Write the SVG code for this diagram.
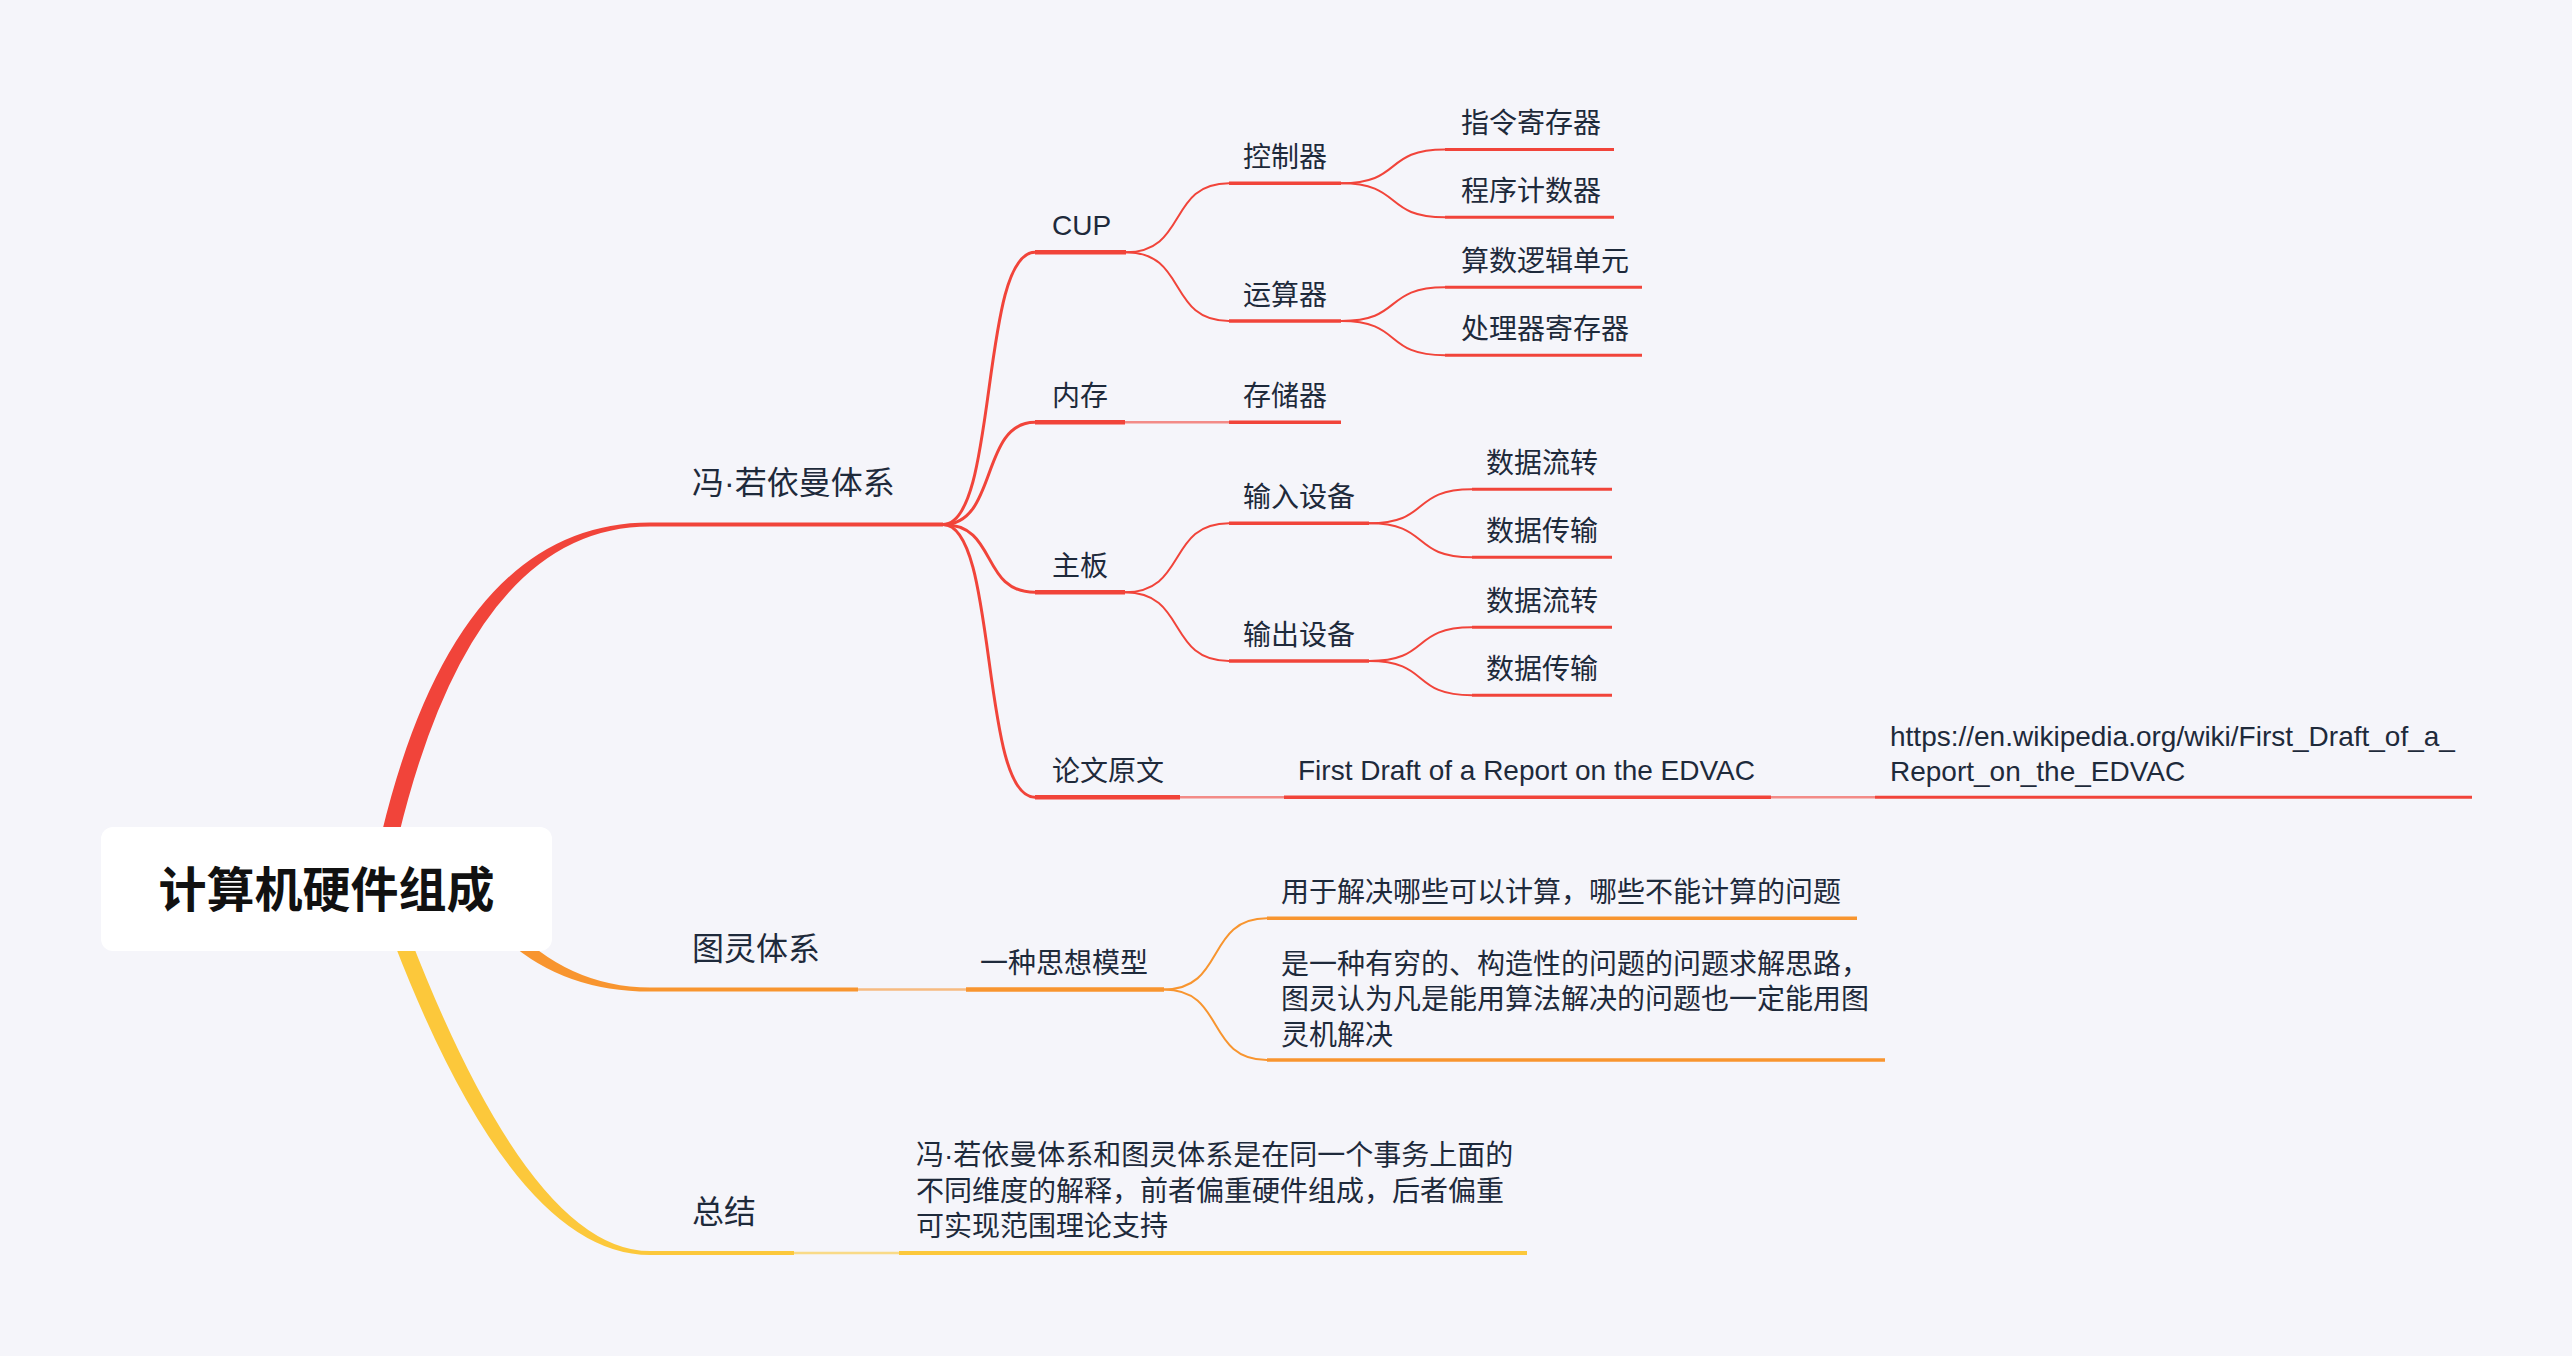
<svg xmlns="http://www.w3.org/2000/svg" width="2572" height="1356" viewBox="0 0 2572 1356">
<style>
text{font-family:"Liberation Sans","Noto Sans CJK SC",sans-serif;fill:#1E2A3B}
.t1{font-size:32px}
.t2{font-size:28px}
.title{font-size:48px;font-weight:700;fill:#111111}
.r{stroke:#F1443A;fill:none}
.o{stroke:#F8952F;fill:none}
.y{stroke:#FCC83B;fill:none}
.c1{stroke-width:3}
.c2{stroke-width:2}
.cs{stroke-width:2.5;stroke-opacity:.6}
.u1{stroke-width:4}
.u2{stroke-width:4.5}
.u3{stroke-width:3.5}
.u4{stroke-width:3}
</style>
<rect width="2572" height="1356" fill="#F5F5FA"/>
<g id="connectors">
<path d="M381.7,833 Q456.6,522.5 650,522.5 L650,526.5 Q473.2,526.5 398.3,837 Z" fill="#F1443A"/>
<path d="M474.3,904.1 Q537.8,991.5 650,991.5 L650,987.5 Q552.2,987.5 485.7,895.9 Z" fill="#F8952F"/>
<path d="M394.1,943.1 Q514.5,1255 650,1255 L650,1251 Q531.3,1251 409.9,936.9 Z" fill="#FCC83B"/>
<path class="r c1" d="M943 524.5 C998.2 524.5 979.8 252.3 1035 252.3"/>
<path class="r c1" d="M943 524.5 C998.2 524.5 979.8 422.3 1035 422.3"/>
<path class="r c1" d="M943 524.5 C998.2 524.5 979.8 592.3 1035 592.3"/>
<path class="r c1" d="M943 524.5 C998.2 524.5 979.8 797.3 1035 797.3"/>
<path class="r c2" d="M1126 252.3 C1187.8 252.3 1167.2 183.3 1229 183.3"/>
<path class="r c2" d="M1126 252.3 C1187.8 252.3 1167.2 321 1229 321"/>
<path class="r c2" d="M1341 183.3 C1403.4 183.3 1382.6 149.5 1445 149.5"/>
<path class="r c2" d="M1341 183.3 C1403.4 183.3 1382.6 217.3 1445 217.3"/>
<path class="r c2" d="M1341 321 C1403.4 321 1382.6 287.3 1445 287.3"/>
<path class="r c2" d="M1341 321 C1403.4 321 1382.6 355.3 1445 355.3"/>
<path class="r c2" d="M1125 592.3 C1187.4 592.3 1166.6 523.3 1229 523.3"/>
<path class="r c2" d="M1125 592.3 C1187.4 592.3 1166.6 661 1229 661"/>
<path class="r c2" d="M1369 523.3 C1430.8 523.3 1410.2 489.3 1472 489.3"/>
<path class="r c2" d="M1369 523.3 C1430.8 523.3 1410.2 557.3 1472 557.3"/>
<path class="r c2" d="M1369 661 C1430.8 661 1410.2 627.3 1472 627.3"/>
<path class="r c2" d="M1369 661 C1430.8 661 1410.2 695.3 1472 695.3"/>
<path class="r cs" d="M1125 422.3 H1229"/>
<path class="r cs" d="M1180 797.3 H1284"/>
<path class="r cs" d="M1771 797.3 H1875"/>
<path class="o cs" d="M858 989.5 H966"/>
<path class="o c2" d="M1164 989.5 C1225.8 989.5 1205.2 918.3 1267 918.3"/>
<path class="o c2" d="M1164 989.5 C1225.8 989.5 1205.2 1060 1267 1060"/>
<path class="y cs" d="M794 1253 H899"/>
</g>
<g id="root">
<rect x="101" y="827" width="451" height="124" rx="12" fill="#FFFFFF"/>
<text class="title" x="326.5" y="907" text-anchor="middle">计算机硬件组成</text>
</g>
<g id="von-neumann">
<path class="r u1" d="M650 524.5 H943"/>
<text class="t1" x="692" y="494">冯·若依曼体系</text>
</g>
<g id="cup">
<path class="r u2" d="M1035 252.3 H1126"/>
<text class="t2" x="1052" y="235">CUP</text>
</g>
<g id="controller">
<path class="r u3" d="M1229 183.3 H1341"/>
<text class="t2" x="1243" y="167">控制器</text>
</g>
<g id="instr-reg">
<path class="r u4" d="M1445 149.5 H1614"/>
<text class="t2" x="1461" y="133">指令寄存器</text>
</g>
<g id="pc">
<path class="r u4" d="M1445 217.3 H1614"/>
<text class="t2" x="1461" y="201">程序计数器</text>
</g>
<g id="alu-group">
<path class="r u3" d="M1229 321 H1341"/>
<text class="t2" x="1243" y="304.5">运算器</text>
</g>
<g id="alu">
<path class="r u4" d="M1445 287.3 H1642"/>
<text class="t2" x="1461" y="271">算数逻辑单元</text>
</g>
<g id="proc-reg">
<path class="r u4" d="M1445 355.3 H1642"/>
<text class="t2" x="1461" y="339">处理器寄存器</text>
</g>
<g id="memory">
<path class="r u2" d="M1035 422.3 H1125"/>
<text class="t2" x="1052" y="406">内存</text>
</g>
<g id="storage">
<path class="r u3" d="M1229 422.3 H1341"/>
<text class="t2" x="1243" y="406">存储器</text>
</g>
<g id="mainboard">
<path class="r u2" d="M1035 592.3 H1125"/>
<text class="t2" x="1052" y="576">主板</text>
</g>
<g id="input">
<path class="r u3" d="M1229 523.3 H1369"/>
<text class="t2" x="1243" y="507">输入设备</text>
</g>
<g id="input-flow">
<path class="r u4" d="M1472 489.3 H1612"/>
<text class="t2" x="1486" y="473">数据流转</text>
</g>
<g id="input-trans">
<path class="r u4" d="M1472 557.3 H1612"/>
<text class="t2" x="1486" y="541">数据传输</text>
</g>
<g id="output">
<path class="r u3" d="M1229 661 H1369"/>
<text class="t2" x="1243" y="644.5">输出设备</text>
</g>
<g id="output-flow">
<path class="r u4" d="M1472 627.3 H1612"/>
<text class="t2" x="1486" y="611">数据流转</text>
</g>
<g id="output-trans">
<path class="r u4" d="M1472 695.3 H1612"/>
<text class="t2" x="1486" y="679">数据传输</text>
</g>
<g id="paper">
<path class="r u2" d="M1035 797.3 H1180"/>
<text class="t2" x="1052" y="781">论文原文</text>
</g>
<g id="first-draft">
<path class="r u3" d="M1284 797.3 H1771"/>
<text class="t2" x="1298" y="780">First Draft of a Report on the EDVAC</text>
</g>
<g id="url">
<path class="r u4" d="M1875 797.3 H2472"/>
<text class="t2" x="1890" y="745.5">https://en.wikipedia.org/wiki/First_Draft_of_a_</text>
<text class="t2" x="1890" y="781">Report_on_the_EDVAC</text>
</g>
<g id="turing">
<path class="o u1" d="M650 989.5 H858"/>
<text class="t1" x="692" y="960">图灵体系</text>
</g>
<g id="thought-model">
<path class="o u2" d="M966 989.5 H1164"/>
<text class="t2" x="980" y="973">一种思想模型</text>
</g>
<g id="computable">
<path class="o u3" d="M1267 918.3 H1857"/>
<text class="t2" x="1281" y="902">用于解决哪些可以计算，哪些不能计算的问题</text>
</g>
<g id="constructive">
<path class="o u3" d="M1267 1060 H1885"/>
<text class="t2" x="1281" y="973.5">是一种有穷的、构造性的问题的问题求解思路，</text>
<text class="t2" x="1281" y="1009">图灵认为凡是能用算法解决的问题也一定能用图</text>
<text class="t2" x="1281" y="1044.5">灵机解决</text>
</g>
<g id="summary">
<path class="y u1" d="M650 1253 H794"/>
<text class="t1" x="692" y="1223">总结</text>
</g>
<g id="summary-text">
<path class="y u1" d="M899 1253 H1527"/>
<text class="t2" x="916" y="1165">冯·若依曼体系和图灵体系是在同一个事务上面的</text>
<text class="t2" x="916" y="1200.5">不同维度的解释，前者偏重硬件组成，后者偏重</text>
<text class="t2" x="916" y="1236">可实现范围理论支持</text>
</g>
</svg>
